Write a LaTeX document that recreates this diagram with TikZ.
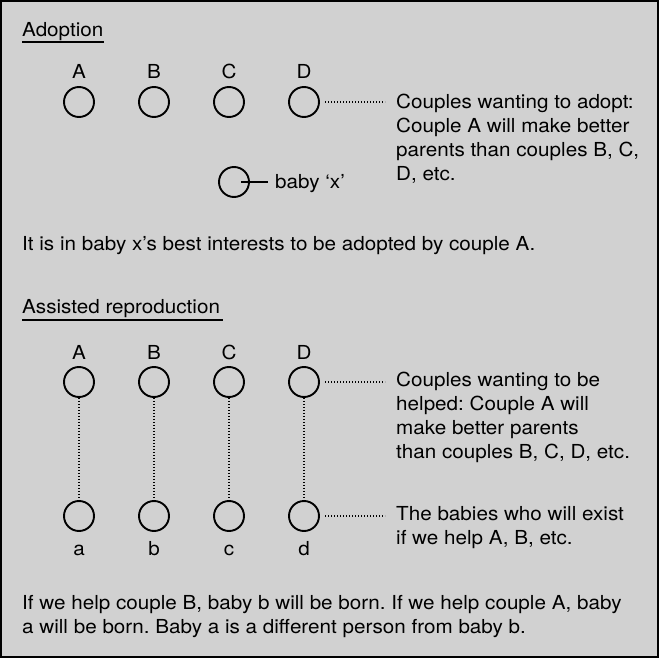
\documentclass[tikz,border=0pt]{standalone}
\usepackage{fontspec}
\setmainfont{TeX Gyre Heros}[FakeStretch=1.07]
\definecolor{bg}{RGB}{209,209,209}
\frenchspacing
\begin{document}
\begin{tikzpicture}[x=1pt,y=-1pt,
  txt/.style={anchor=base west,inner sep=0pt,font=\fontsize{19.3}{24}\selectfont},
  lbl/.style={anchor=base,inner sep=0pt,font=\fontsize{19.3}{24}\selectfont},
  ring/.style={circle,draw,line width=1.9pt,minimum size=30pt,inner sep=0pt},
  dots/.style={line width=1.4pt,dash pattern=on 1.2pt off 1.8pt},
  uline/.style={line width=1.6pt}]
\useasboundingbox (0,0) rectangle (659,658);
\fill[bg] (0,0) rectangle (659,658);
\draw[line width=2pt] (1,1) rectangle (658,657);
% Adoption
\node[txt] (t1) at (22,37) {Adoption};
\draw[uline] (t1.base west) ++(0,5) -- ++(82,0);
\foreach \n/\x in {A/79,B/154,C/229,D/304}{
  \node[lbl] (L1\n) at (\x,79) {\n};
  \node[ring] (c1\n) at (\x,102) {};
}
\node[txt] (r1) at (396,109) {Couples wanting to adopt:};
\node[txt] (r2) at (396,133) {Couple A will make better};
\node[txt] (r3) at (396,157) {parents than couples B, C,};
\node[txt] (r4) at (396,181) {D, etc.};
\coordinate (d1s) at (325,102);
\coordinate (d1e) at (385,102);
\draw[dots] (d1s) -- (d1e);
\node[ring] (bx) at (234,182) {};
\node[txt] (bxt) at (275,189) {baby ‘x’};
\coordinate (bxs) at (241,182);
\coordinate (bxe) at (268,182);
\draw[line width=1.8pt] (bxs) -- (bxe);
\node[txt] (s1) at (22,251) {It is in baby x’s best interests to be adopted by couple A.};
% Assisted reproduction
\node[txt] (t2) at (22,313) {Assisted reproduction};
\draw[uline] (t2.base west) ++(0,7) -- ++(201,0);
\foreach \n/\m/\x in {A/a/79,B/b/154,C/c/229,D/d/304}{
  \node[lbl] (L2\n) at (\x,359) {\n};
  \node[ring] (c2\n) at (\x,382) {};
  \node[ring] (c3\n) at (\x,516) {};
  \node[lbl] (L3\n) at (\x,555) {\m};
  \draw[dots] (c2\n.south) -- (c3\n.north);
}
\node[txt] (q1) at (396,386) {Couples wanting to be};
\node[txt] (q2) at (396,410) {helped: Couple A will};
\node[txt] (q3) at (396,434) {make better parents};
\node[txt] (q4) at (396,458) {than couples B, C, D, etc.};
\node[txt] (p1) at (396,520) {The babies who will exist};
\node[txt] (p2) at (396,544) {if we help A, B, etc.};
\coordinate (d2s) at (325,382);
\coordinate (d2e) at (385,382);
\draw[dots] (d2s) -- (d2e);
\coordinate (d3s) at (325,516);
\coordinate (d3e) at (385,516);
\draw[dots] (d3s) -- (d3e);
\node[txt] (b1) at (22,609) {If we help couple B, baby b will be born. If we help couple A, baby};
\node[txt] (b2) at (22,633) {a will be born. Baby a is a different person from baby b.};
\end{tikzpicture}
\end{document}
